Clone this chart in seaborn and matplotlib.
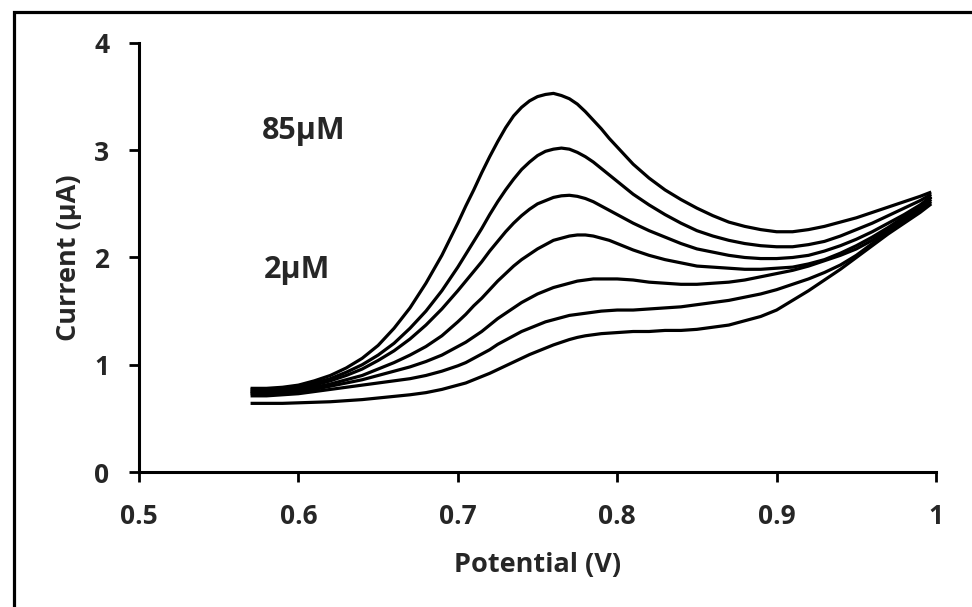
import matplotlib
matplotlib.use("Agg")
import matplotlib.pyplot as plt
import matplotlib.font_manager as fm
from matplotlib.patches import Rectangle
import pandas as pd
import seaborn as sns

# Differential pulse voltammograms: potential grid (V) and current (µA) per concentration
potential = [0.570, 0.580, 0.590, 0.600, 0.610, 0.620, 0.630, 0.640, 0.650, 0.660,
             0.670, 0.680, 0.690,
             0.700, 0.705, 0.710, 0.715, 0.720, 0.725, 0.730, 0.735, 0.740, 0.745,
             0.750, 0.755, 0.760, 0.765, 0.770, 0.775, 0.780, 0.785, 0.790, 0.795,
             0.800, 0.810, 0.820, 0.830, 0.840, 0.850, 0.860,
             0.870, 0.880, 0.890, 0.900, 0.910, 0.920, 0.930, 0.940, 0.950, 0.960,
             0.970, 0.980, 0.990, 0.997]

current_85uM = [0.78, 0.78, 0.79, 0.81, 0.85, 0.90, 0.97, 1.06, 1.18, 1.34,
                1.53, 1.76, 2.02,
                2.32, 2.48, 2.63, 2.79, 2.94, 3.08, 3.21, 3.32, 3.40, 3.46,
                3.50, 3.52, 3.53, 3.51, 3.48, 3.43, 3.36, 3.28, 3.20, 3.11,
                3.03, 2.87, 2.74, 2.63, 2.54, 2.46, 2.39,
                2.33, 2.29, 2.26, 2.24, 2.24, 2.26, 2.29, 2.33, 2.37, 2.42,
                2.47, 2.52, 2.57, 2.61]
current_s6 = [0.77, 0.77, 0.78, 0.80, 0.83, 0.87, 0.93, 1.00, 1.09, 1.20,
              1.34, 1.50, 1.69,
              1.91, 2.03, 2.15, 2.27, 2.40, 2.52, 2.63, 2.73, 2.82, 2.89,
              2.95, 2.99, 3.01, 3.02, 3.01, 2.98, 2.94, 2.89, 2.83, 2.77,
              2.71, 2.59, 2.49, 2.40, 2.32, 2.25, 2.20,
              2.16, 2.13, 2.11, 2.10, 2.10, 2.12, 2.15, 2.20, 2.26, 2.32,
              2.39, 2.46, 2.53, 2.59]
current_s5 = [0.75, 0.76, 0.77, 0.79, 0.81, 0.85, 0.90, 0.96, 1.04, 1.13,
              1.24, 1.37, 1.52,
              1.69, 1.78, 1.87, 1.96, 2.06, 2.15, 2.24, 2.32, 2.39, 2.45,
              2.50, 2.53, 2.56, 2.575, 2.58, 2.57, 2.55, 2.52, 2.48, 2.44,
              2.40, 2.32, 2.25, 2.19, 2.13, 2.08, 2.05,
              2.02, 2.00, 1.99, 1.99, 2.00, 2.02, 2.06, 2.11, 2.17, 2.24,
              2.32, 2.40, 2.49, 2.57]
current_s4 = [0.74, 0.75, 0.76, 0.77, 0.79, 0.82, 0.86, 0.90, 0.96, 1.02,
              1.09, 1.17, 1.27,
              1.40, 1.47, 1.55, 1.62, 1.70, 1.78, 1.85, 1.92, 1.98, 2.03,
              2.08, 2.12, 2.16, 2.18, 2.20, 2.21, 2.21, 2.20, 2.18, 2.16,
              2.13, 2.07, 2.02, 1.98, 1.95, 1.92, 1.91,
              1.90, 1.89, 1.89, 1.90, 1.91, 1.94, 1.98, 2.04, 2.11, 2.19,
              2.28, 2.38, 2.47, 2.56]
current_s3 = [0.73, 0.73, 0.74, 0.75, 0.77, 0.80, 0.83, 0.86, 0.90, 0.94,
              0.98, 1.03, 1.09,
              1.17, 1.21, 1.26, 1.31, 1.37, 1.43, 1.48, 1.53, 1.58, 1.62,
              1.66, 1.69, 1.72, 1.74, 1.76, 1.78, 1.79, 1.80, 1.80, 1.80,
              1.80, 1.79, 1.77, 1.76, 1.75, 1.75, 1.76,
              1.77, 1.79, 1.82, 1.85, 1.88, 1.92, 1.97, 2.02, 2.08, 2.16,
              2.26, 2.36, 2.46, 2.54]
current_s2 = [0.71, 0.71, 0.72, 0.73, 0.75, 0.77, 0.79, 0.81, 0.83, 0.85,
              0.87, 0.90, 0.94,
              0.99, 1.02, 1.06, 1.10, 1.14, 1.19, 1.23, 1.27, 1.31, 1.34,
              1.37, 1.40, 1.42, 1.44, 1.46, 1.47, 1.48, 1.49, 1.50, 1.505,
              1.51, 1.51, 1.52, 1.53, 1.54, 1.56, 1.58,
              1.60, 1.63, 1.66, 1.70, 1.75, 1.80, 1.86, 1.93, 2.02, 2.13,
              2.24, 2.34, 2.44, 2.52]
current_2uM = [0.64, 0.64, 0.64, 0.645, 0.65, 0.655, 0.665, 0.675, 0.69, 0.705,
               0.72, 0.74, 0.77,
               0.81, 0.83, 0.86, 0.89, 0.92, 0.955, 0.99, 1.025, 1.06, 1.095,
               1.125, 1.155, 1.185, 1.21, 1.235, 1.255, 1.27, 1.28, 1.29, 1.295,
               1.30, 1.31, 1.31, 1.32, 1.32, 1.33, 1.35,
               1.37, 1.41, 1.45, 1.51, 1.60, 1.69, 1.79, 1.89, 2.00, 2.11,
               2.22, 2.32, 2.42, 2.50]

series_names = ["85µM", "s6", "s5", "s4", "s3", "s2", "2µM"]
series_values = [current_85uM, current_s6, current_s5, current_s4,
                 current_s3, current_s2, current_2uM]

x_ticks = [0.5, 0.6, 0.7, 0.8, 0.9, 1.0]
x_tick_labels = ["0.5", "0.6", "0.7", "0.8", "0.9", "1"]
y_ticks = [0, 1, 2, 3, 4]
y_tick_labels = ["0", "1", "2", "3", "4"]

frames = [pd.DataFrame({"Potential": potential, "Current": vals, "series": name})
          for name, vals in zip(series_names, series_values)]
df = pd.concat(frames, ignore_index=True)


def _weight_value(w):
    if isinstance(w, (int, float)):
        return w
    named = {"bold": 700, "heavy": 800, "black": 900, "semibold": 600,
             "demibold": 600, "extra bold": 800, "ultrabold": 800}
    return named.get(str(w).lower(), 400)


def pick_bold_family(candidates):
    for name in candidates:
        weights = [_weight_value(f.weight) for f in fm.fontManager.ttflist if f.name == name]
        if any(w >= 600 for w in weights):
            return name
    return "DejaVu Sans"


sns.set_theme(style="white")
family = pick_bold_family(["Open Sans", "Noto Sans", "Lato", "Roboto", "Liberation Sans"])
plt.rcParams["font.family"] = [family, "DejaVu Sans"]
plt.rcParams["font.weight"] = "bold"
plt.rcParams["axes.labelweight"] = "bold"

fig = plt.figure(figsize=(9.72, 6.07), dpi=100)
ax = fig.add_axes([0.1430, 0.2224, 0.8200, 0.7068])

sns.lineplot(data=df, x="Potential", y="Current", hue="series",
             palette=["black"] * len(series_names), estimator=None,
             sort=False, linewidth=2.3, legend=False, ax=ax)
for line in ax.get_lines():
    line.set_solid_joinstyle("round")
    line.set_solid_capstyle("butt")

ax.set_xlim(0.5, 1.0)
ax.set_ylim(0, 4)
ax.set_xticks(x_ticks)
ax.set_xticklabels(x_tick_labels)
ax.set_yticks(y_ticks)
ax.set_yticklabels(y_tick_labels)

for side in ["top", "right"]:
    ax.spines[side].set_visible(False)
for side in ["left", "bottom"]:
    ax.spines[side].set_color("black")
    ax.spines[side].set_linewidth(2.2)

ax.tick_params(axis="both", which="major", direction="out", length=7.5,
               width=2.0, color="black", labelsize=19, bottom=True, left=True)
ax.tick_params(axis="x", pad=15)
ax.tick_params(axis="y", pad=14)
for lbl in ax.get_xticklabels() + ax.get_yticklabels():
    lbl.set_fontweight("bold")

ax.set_xlabel("Potential (V)", fontsize=19.5, fontweight="bold", labelpad=15.5)
ax.set_ylabel("Current (µA)", fontsize=19.5, fontweight="bold", labelpad=9)

ax.text(0.577, 3.18, "85µM", fontsize=22, fontweight="bold", va="center", ha="left")
ax.text(0.578, 1.88, "2µM", fontsize=22, fontweight="bold", va="center", ha="left")

# Outer frame running off the right and bottom edges
fig.add_artist(Rectangle((14 / 972, -0.2), 1.5, 1.2 - 12 / 607,
                         transform=fig.transFigure, fill=False,
                         edgecolor="black", linewidth=2.3, clip_on=False))

fig.savefig("out.png", dpi=100)
